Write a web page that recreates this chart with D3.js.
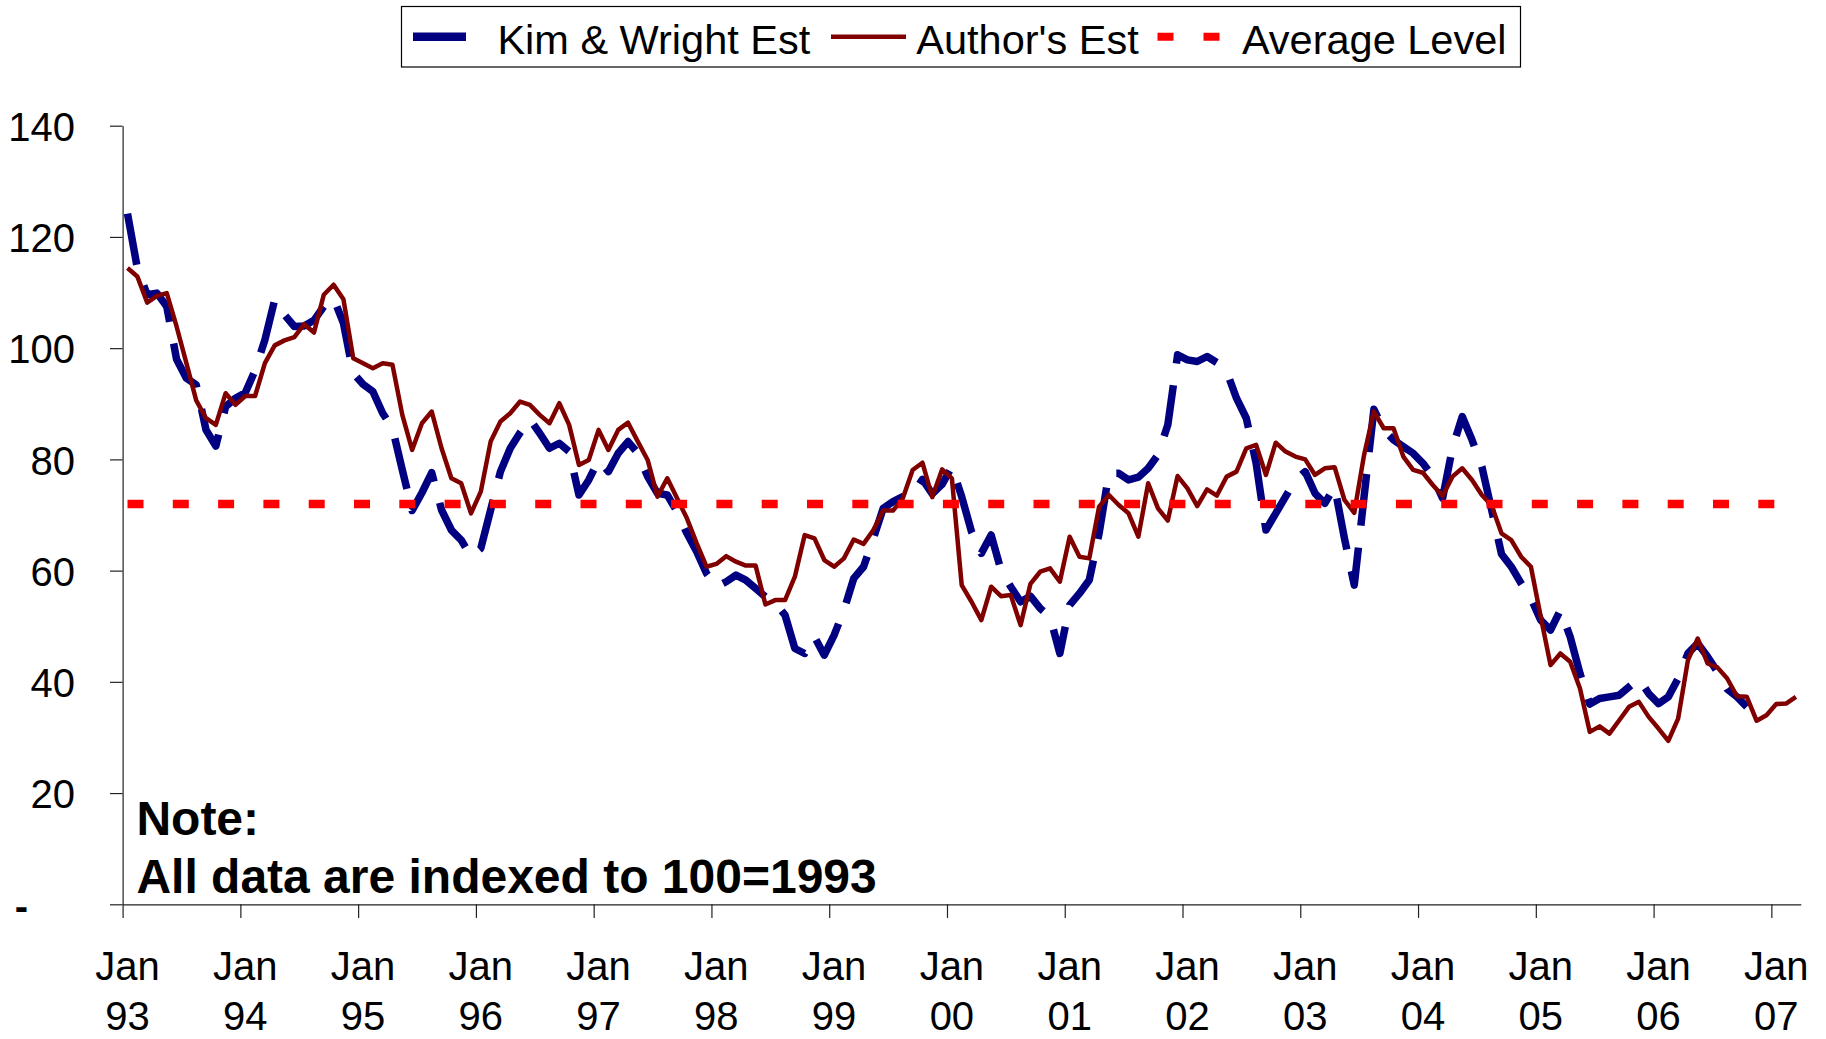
<!DOCTYPE html>
<html lang="en">
<head>
<meta charset="utf-8">
<title>Kim &amp; Wright vs Author's Est</title>
<script src="https://cdn.jsdelivr.net/npm/d3@7"></script>
<style>
  body { margin: 0; background: #fff; }
  text { font-family: "Liberation Sans", Arial, sans-serif; fill: #000; }
</style>
</head>
<body>
<script>
// monthly index, Jan 93 .. Mar 07
var years = ["93", "94", "95", "96", "97", "98", "99", "00", "01", "02", "03", "04", "05", "06", "07"];
var yTicks = [0, 20, 40, 60, 80, 100, 120, 140];
var seriesNames = ["Kim & Wright Est", "Author's Est", "Average Level"];

var kimWright = [124.2, 114.4, 109.6, 109.9, 107.5, 98.0, 94.6, 93.4, 85.3, 82.4,
  89.5, 91.0, 92.0, 96.0, 101.5, 108.7, 106.0, 103.9, 104.0, 105.0,
  107.5, 109.0, 104.5, 95.5, 93.5, 92.2, 88.3, 85.6, 78.1, 70.8,
  74.0, 77.6, 70.9, 67.3, 65.5, 62.5, 64.0, 70.9, 77.8, 82.0,
  84.8, 87.2, 84.7, 82.0, 82.9, 81.4, 73.6, 76.3, 79.9, 77.8,
  81.1, 83.2, 81.1, 76.9, 73.9, 73.6, 70.6, 66.7, 63.4, 59.5,
  57.1, 58.0, 59.2, 58.3, 56.8, 55.3, 54.2, 52.0, 46.0, 45.1,
  48.1, 44.8, 48.4, 52.9, 58.6, 60.7, 65.8, 71.2, 72.4, 73.3,
  73.8, 76.4, 73.8, 75.5, 78.7, 73.3, 67.0, 63.1, 66.4, 60.1,
  57.1, 54.4, 55.4, 53.2, 51.7, 45.1, 53.8, 55.9, 58.3, 66.7,
  77.5, 77.5, 76.3, 76.8, 78.4, 80.8, 86.2, 98.8, 97.9, 97.6,
  98.5, 97.4, 95.8, 91.0, 87.4, 79.3, 67.3, 70.3, 73.3, 76.3,
  77.8, 73.9, 72.1, 75.1, 65.8, 57.4, 73.3, 89.0, 85.3, 83.5,
  82.3, 81.1, 79.3, 76.9, 73.0, 82.0, 87.7, 83.5, 78.7, 70.9,
  63.0, 60.7, 57.7, 55.0, 51.1, 49.3, 52.9, 48.1, 41.5, 36.0,
  37.0, 37.3, 37.6, 39.1, 40.6, 37.9, 36.1, 37.3, 40.6, 45.1,
  46.9, 44.5, 41.8, 38.7, 37.3, 35.5];

var authorsEst = [114.4, 112.9, 108.2, 109.4, 109.9, 103.9, 97.3, 90.6, 87.4, 86.2,
  91.9, 89.8, 91.4, 91.4, 97.3, 100.5, 101.4, 102.0, 104.3, 102.8,
  109.6, 111.4, 108.8, 98.2, 97.3, 96.4, 97.3, 97.0, 88.0, 81.7,
  86.5, 88.6, 82.0, 76.6, 75.7, 70.3, 74.2, 83.2, 86.8, 88.3,
  90.4, 89.8, 88.0, 86.5, 90.1, 86.2, 79.0, 79.9, 85.3, 81.7,
  85.3, 86.6, 83.2, 79.9, 73.3, 76.6, 73.0, 69.4, 64.9, 60.7,
  61.2, 62.6, 61.6, 60.9, 60.9, 53.9, 54.7, 54.7, 58.9, 66.4,
  65.8, 61.9, 60.7, 62.2, 65.6, 64.8, 67.3, 70.8, 70.8, 73.0,
  78.1, 79.4, 73.2, 78.2, 76.6, 57.4, 54.4, 51.1, 57.1, 55.4,
  55.6, 50.2, 57.6, 59.8, 60.4, 58.0, 66.1, 62.5, 62.2, 71.5,
  73.6, 71.8, 70.3, 66.1, 75.7, 71.2, 69.0, 77.0, 74.8, 71.6,
  74.6, 73.5, 76.9, 77.8, 82.0, 82.6, 77.2, 83.0, 81.4, 80.5,
  80.0, 77.2, 78.4, 78.6, 72.7, 70.4, 80.8, 88.6, 85.6, 85.6,
  80.5, 78.1, 77.6, 75.4, 73.4, 76.9, 78.4, 76.3, 73.6, 71.7,
  66.7, 65.5, 62.5, 60.7, 51.7, 43.0, 45.1, 43.6, 38.8, 31.0,
  32.0, 30.7, 33.1, 35.5, 36.4, 33.7, 31.6, 29.4, 33.4, 43.9,
  47.8, 43.3, 42.6, 40.6, 37.4, 37.3, 33.0, 34.0, 36.0, 36.1,
  37.3];

var averageLevel = 72;

var w = 1826, h = 1039;
var nMonths = authorsEst.length;

var blue = "#000080", darkRed = "#800000", red = "#ff0000";

var xScale = d3.scaleLinear().domain([0, nMonths]).range([122.6, 1800.8]);
var yScale = d3.scaleLinear().domain([0, 140]).range([904.3, 125.7]);

var svg = d3.select("body").append("svg")
  .attr("width", w)
  .attr("height", h);

svg.append("rect").attr("width", w).attr("height", h).attr("fill", "#fff");

// y axis
var yAxis = d3.axisLeft(yScale)
  .tickValues(yTicks)
  .tickSize(12.6)
  .tickSizeOuter(0)
  .tickPadding(35)
  .tickFormat(function(d) { return d === 0 ? "-" : d; });

var gy = svg.append("g")
  .attr("transform", "translate(" + xScale(0) + ",0)")
  .call(yAxis);
gy.selectAll("text")
  .attr("font-size", 40)
  .attr("dy", "0.37em")
  .attr("x", function(d) { return d === 0 ? -94.6 : -47.6; })
  .attr("font-weight", function(d) { return d === 0 ? "bold" : null; });

// x axis: ticks on the year boundaries, labels on January
var xAxis = d3.axisBottom(xScale)
  .tickValues(d3.range(0, nMonths, 12))
  .tickSize(13.6)
  .tickSizeOuter(0)
  .tickFormat("");

svg.append("g")
  .attr("transform", "translate(0," + yScale(0) + ")")
  .call(xAxis);

svg.selectAll(".domain, .tick line")
  .attr("stroke", "#222")
  .attr("stroke-width", 1.2);

var xLabels = svg.selectAll(".xlab")
  .data(years)
  .enter()
  .append("text")
  .attr("class", "xlab")
  .attr("text-anchor", "middle")
  .attr("font-size", 40);
xLabels.append("tspan")
  .attr("x", function(d, i) { return xScale(i * 12 + 0.5); })
  .attr("y", 979.5)
  .text("Jan");
xLabels.append("tspan")
  .attr("x", function(d, i) { return xScale(i * 12 + 0.5); })
  .attr("y", 1030)
  .text(function(d) { return d; });

// series
var line = d3.line()
  .x(function(d, i) { return xScale(i + 0.5); })
  .y(function(d) { return yScale(d); });

svg.append("path")
  .datum(kimWright)
  .attr("d", line)
  .attr("fill", "none")
  .attr("stroke", blue)
  .attr("stroke-width", 7.5)
  .attr("stroke-dasharray", "52,22")
  .attr("stroke-linejoin", "round");

svg.append("path")
  .datum(authorsEst)
  .attr("d", line)
  .attr("fill", "none")
  .attr("stroke", darkRed)
  .attr("stroke-width", 4.5)
  .attr("stroke-linejoin", "round");

svg.append("line")
  .attr("x1", xScale(0.5))
  .attr("x2", xScale(nMonths - 0.5))
  .attr("y1", yScale(averageLevel))
  .attr("y2", yScale(averageLevel))
  .attr("stroke", red)
  .attr("stroke-width", 8.5)
  .attr("stroke-dasharray", "16,29.3");

// note
var note = svg.append("text")
  .attr("font-size", 48)
  .attr("font-weight", "bold");
note.append("tspan").attr("x", 136.4).attr("y", 835.4).text("Note:");
note.append("tspan").attr("x", 136.4).attr("y", 893.4).text("All data are indexed to 100=1993");

// legend
var legend = svg.append("g");
legend.append("rect")
  .attr("x", 401.5).attr("y", 6.5)
  .attr("width", 1119).attr("height", 60.5)
  .attr("fill", "#fff")
  .attr("stroke", "#000")
  .attr("stroke-width", 1.2);

var legendItems = [
  { x1: 413, x2: 466, tx: 497.4, color: blue, sw: 8.5, dash: null },
  { x1: 831, x2: 906, tx: 916.3, color: darkRed, sw: 4.5, dash: null },
  { x1: 1157.5, x2: 1232, tx: 1241.9, color: red, sw: 8, dash: "16,30" }
];

legendItems.forEach(function(it, i) {
  legend.append("line")
    .attr("x1", it.x1).attr("x2", it.x2)
    .attr("y1", 36.8).attr("y2", 36.8)
    .attr("stroke", it.color)
    .attr("stroke-width", it.sw)
    .attr("stroke-dasharray", it.dash);
  legend.append("text")
    .attr("x", it.tx)
    .attr("y", 53.6)
    .attr("font-size", 41.5)
    .text(seriesNames[i]);
});
</script>
</body>
</html>
